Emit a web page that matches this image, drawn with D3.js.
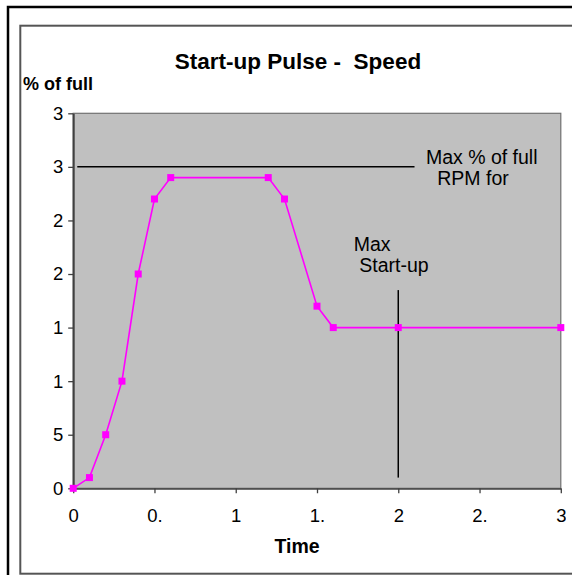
<!DOCTYPE html>
<html>
<head>
<meta charset="utf-8">
<script src="https://cdn.jsdelivr.net/npm/d3@7"></script>
<style>
  body { margin: 0; background: #fff; }
  text { font-family: Arial, "Liberation Sans", sans-serif; }
</style>
</head>
<body>
<div id="chart"></div>
<script>
// speed pulse, time vs % of full
const times  = [0, 0.1, 0.2, 0.3, 0.4, 0.5, 0.6, 1.2, 1.3, 1.5, 1.6, 2.0, 3.0];
const speeds = [0, 10, 50, 100, 200, 270, 290, 290, 270, 170, 150, 150, 150];

// reference lines drawn on the chart
const maxLineT = [0.025, 2.1];
const maxLineV = [300, 300];
const startLineT = [2.0, 2.0];
const startLineV = [10, 185];

const xTicks = [0, 0.5, 1, 1.5, 2, 2.5, 3];
const xTickLabels = ["0", "0.", "1", "1.", "2", "2.", "3"];
const yTicks = [0, 50, 100, 150, 200, 250, 300, 350];
const yTickLabels = ["0", "5", "1", "1", "2", "2", "3", "3"];

function drawChart(chartID) {
    const width = 572, height = 575;
    const plot = {left: 73.2, right: 560.8, top: 113.3, bottom: 488.3};

    d3.select(chartID).html("");
    const svg = d3.select(chartID)
        .append("svg")
        .attr("width", width)
        .attr("height", height);

    // outer and inner frames
    svg.append("rect")
        .attr("x", 8).attr("y", 7)
        .attr("width", 600).attr("height", 600)
        .attr("fill", "none").attr("stroke", "#000").attr("stroke-width", 2.5);
    svg.append("rect")
        .attr("x", 20.3).attr("y", 25.7)
        .attr("width", 600).attr("height", 548)
        .attr("fill", "#fff").attr("stroke", "#555").attr("stroke-width", 2);

    const x = d3.scaleLinear().domain([0, 3]).range([plot.left, plot.right]);
    const y = d3.scaleLinear().domain([0, 350]).range([plot.bottom, plot.top]);

    // grey plot area
    svg.append("rect")
        .attr("x", plot.left).attr("y", plot.top)
        .attr("width", plot.right - plot.left)
        .attr("height", plot.bottom - plot.top)
        .attr("fill", "#c0c0c0")
        .attr("stroke", "#707070").attr("stroke-width", 1.2);

    svg.append("defs").append("clipPath").attr("id", "xclip")
        .append("rect").attr("x", 0).attr("y", 0).attr("width", 566).attr("height", height);

    // axes
    const yAxis = svg.append("g")
        .attr("transform", `translate(${plot.left},0)`)
        .call(d3.axisLeft(y).tickValues(yTicks)
            .tickFormat((d, i) => yTickLabels[i])
            .tickSize(5).tickPadding(5).tickSizeOuter(0));
    const xAxis = svg.append("g")
        .attr("transform", `translate(0,${plot.bottom})`)
        .attr("clip-path", "url(#xclip)")
        .call(d3.axisBottom(x).tickValues(xTicks)
            .tickFormat((d, i) => xTickLabels[i])
            .tickSize(5).tickPadding(16).tickSizeOuter(0));

    [yAxis, xAxis].forEach(ax => {
        ax.select(".domain").attr("stroke", "#404040").attr("stroke-width", 2);
        ax.selectAll(".tick line").attr("stroke", "#404040").attr("stroke-width", 1.3);
        ax.selectAll(".tick text")
            .attr("fill", "#000")
            .style("font-size", "18.5px")
            .style("font-family", "Arial, 'Liberation Sans', sans-serif");
    });

    const line = d3.line().x(d => x(d[0])).y(d => y(d[1]));

    // max % line and start-up marker
    svg.append("path")
        .attr("d", line(d3.zip(maxLineT, maxLineV)))
        .attr("stroke", "#000").attr("stroke-width", 1.5).attr("fill", "none");
    svg.append("path")
        .attr("d", line(d3.zip(startLineT, startLineV)))
        .attr("stroke", "#000").attr("stroke-width", 1.5).attr("fill", "none");

    // speed series
    const pts = d3.zip(times, speeds);
    svg.append("path")
        .attr("d", line(pts))
        .attr("stroke", "#ff00ff").attr("stroke-width", 1.6).attr("fill", "none");
    svg.selectAll(".marker")
        .data(pts)
        .enter()
        .append("rect")
        .attr("class", "marker")
        .attr("x", d => x(d[0]) - 3.5)
        .attr("y", d => y(d[1]) - 3.5)
        .attr("width", 7).attr("height", 7)
        .attr("fill", "#ff00ff");

    // annotations
    const note = (t, v, s) => svg.append("text")
        .attr("x", x(t)).attr("y", y(v))
        .style("font-size", "19.5px")
        .text(s);
    note(2.17, 302.4, "Max % of full");
    note(2.24, 282.8, "RPM for");
    note(1.726, 221.7, "Max");
    note(1.76, 202.3, "Start-up");

    // titles
    svg.append("text")
        .attr("x", 298).attr("y", 69)
        .attr("text-anchor", "middle")
        .style("white-space", "pre")
        .style("font-size", "22.5px").style("font-weight", "bold")
        .text("Start-up Pulse -  Speed");
    svg.append("text")
        .attr("x", 23).attr("y", 90)
        .style("font-size", "18px").style("font-weight", "bold")
        .text("% of full");
    svg.append("text")
        .attr("x", 297).attr("y", 553)
        .attr("text-anchor", "middle")
        .style("font-size", "19.5px").style("font-weight", "bold")
        .text("Time");
}

drawChart("#chart");
</script>
</body>
</html>
